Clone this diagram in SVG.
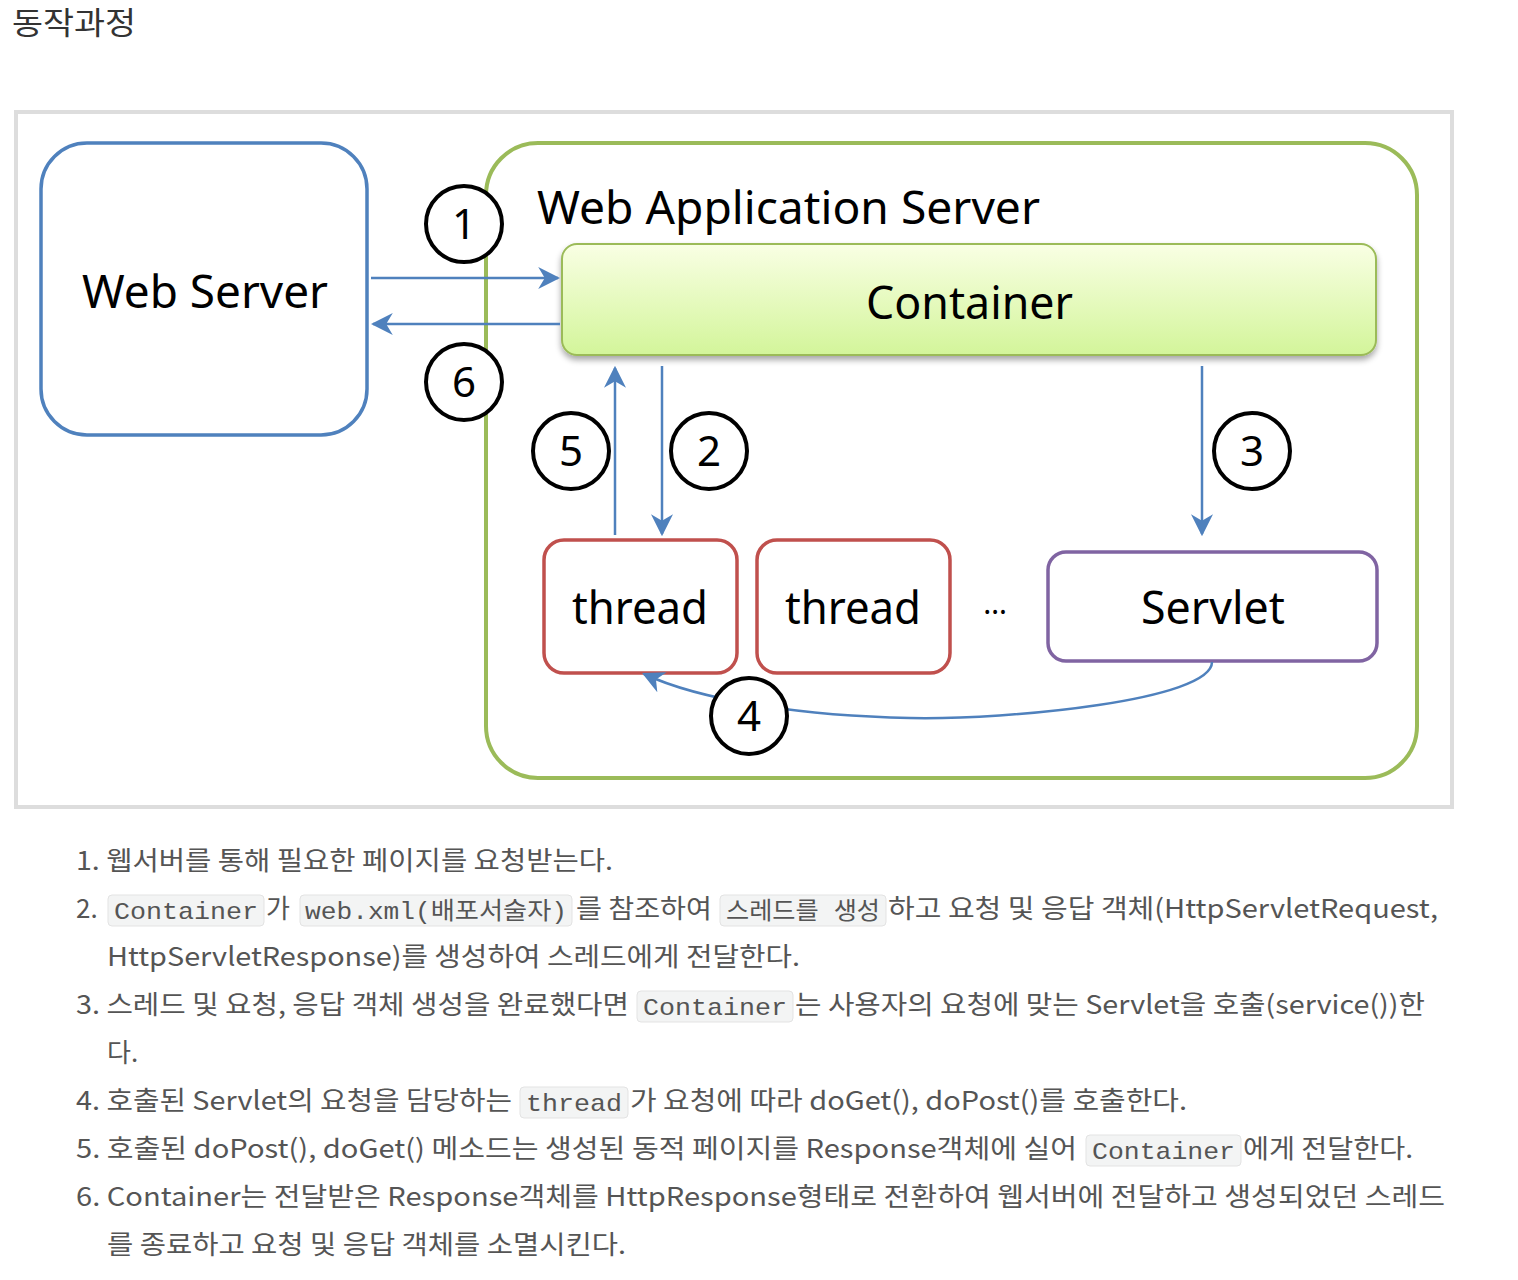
<svg xmlns="http://www.w3.org/2000/svg" width="1518" height="1280" viewBox="0 0 1518 1280">
<defs>
<linearGradient id="cg" x1="0" y1="0" x2="0" y2="1">
<stop offset="0" stop-color="#f9ffe4"/>
<stop offset="1" stop-color="#d3f59a"/>
</linearGradient>
<filter id="sh" x="-5%" y="-20%" width="110%" height="150%">
<feGaussianBlur in="SourceAlpha" stdDeviation="3"/>
<feOffset dx="0" dy="4" result="b"/>
<feComponentTransfer><feFuncA type="linear" slope="0.35"/></feComponentTransfer>
<feMerge><feMergeNode/><feMergeNode in="SourceGraphic"/></feMerge>
</filter>
<marker id="ah" viewBox="0 0 20 20" refX="18" refY="10" markerWidth="22" markerHeight="22" markerUnits="userSpaceOnUse" orient="auto">
<path d="M0,0 L20,10 L0,20 L6,10 Z" fill="#4F81BD"/>
</marker>
</defs>
<style>
.dg{font-family:"Noto Sans","Open Sans","DejaVu Sans",sans-serif;fill:#000}
.big{font-size:46px}
.num{font-size:42px;text-anchor:middle}
.circ{fill:#fff;stroke:#000;stroke-width:4}
.conn{stroke:#4F81BD;stroke-width:2.5;fill:none}
.tx{font-family:"Noto Sans CJK KR","Noto Sans",sans-serif;font-size:26px;fill:#555}
.code{font-family:"Liberation Mono","Noto Sans CJK KR",monospace;font-size:24px;fill:#555}
.cb{fill:#f3f4f4;stroke:#e3e3e3;stroke-width:1}
</style>
<rect width="1518" height="1280" fill="#fff"/>
<text x="12" y="34" textLength="124" lengthAdjust="spacingAndGlyphs" style="font-family:'Noto Sans CJK KR',sans-serif;font-size:31px;fill:#333">동작과정</text>
<rect x="16" y="112" width="1436" height="695" fill="#fff" stroke="#ddd" stroke-width="4"/>

<g id="was">
<rect x="486" y="143" width="931" height="635" rx="52" fill="#fff" stroke="#9BBB59" stroke-width="4"/>
<text class="dg big" x="537" y="224" textLength="503" lengthAdjust="spacingAndGlyphs">Web Application Server</text>
</g>
<g id="webserver">
<rect x="41" y="143" width="326" height="292" rx="46" fill="#fff" stroke="#4F81BD" stroke-width="3.5"/>
<text class="dg big" x="82" y="308" textLength="246" lengthAdjust="spacingAndGlyphs">Web Server</text>
</g>
<g id="container">
<rect x="562" y="244" width="814" height="111" rx="15" fill="url(#cg)" stroke="#9BBB59" stroke-width="2" filter="url(#sh)"/>
<text class="dg big" x="866" y="319" textLength="207" lengthAdjust="spacingAndGlyphs">Container</text>
</g>
<g id="thread1">
<rect x="544" y="540" width="193" height="133" rx="20" fill="#fff" stroke="#C0504D" stroke-width="3.5"/>
<text class="dg big" x="572" y="624" textLength="136" lengthAdjust="spacingAndGlyphs">thread</text>
</g>
<g id="thread2">
<rect x="757" y="540" width="193" height="133" rx="20" fill="#fff" stroke="#C0504D" stroke-width="3.5"/>
<text class="dg big" x="785" y="624" textLength="136" lengthAdjust="spacingAndGlyphs">thread</text>
</g>
<g id="ellipsis">
<text class="dg" x="995" y="614" style="font-size:30px;text-anchor:middle">…</text>
</g>
<g id="servlet">
<rect x="1048" y="552" width="329" height="109" rx="18" fill="#fff" stroke="#8064A2" stroke-width="3.5"/>
<text class="dg big" x="1141" y="624" textLength="144" lengthAdjust="spacingAndGlyphs">Servlet</text>
</g>

<g id="connectors">
<line class="conn" x1="371" y1="278" x2="558" y2="278" marker-end="url(#ah)"/>
<line class="conn" x1="560" y1="324" x2="373" y2="324" marker-end="url(#ah)"/>
<line class="conn" x1="615" y1="535" x2="615" y2="368" marker-end="url(#ah)"/>
<line class="conn" x1="662" y1="366" x2="662" y2="534" marker-end="url(#ah)"/>
<line class="conn" x1="1202" y1="366" x2="1202" y2="534" marker-end="url(#ah)"/>
<path class="conn" d="M1212,662 C1212,700 1010,720 910,718 C800,716 700,700 644,674" marker-end="url(#ah)"/>
</g>

<g id="labels">
<circle class="circ" cx="464" cy="224" r="38"/><text class="dg num" x="464" y="239">1</text>
<circle class="circ" cx="464" cy="382" r="38"/><text class="dg num" x="464" y="397">6</text>
<circle class="circ" cx="571" cy="451" r="38"/><text class="dg num" x="571" y="466">5</text>
<circle class="circ" cx="709" cy="451" r="38"/><text class="dg num" x="709" y="466">2</text>
<circle class="circ" cx="1252" cy="451" r="38"/><text class="dg num" x="1252" y="466">3</text>
<ellipse class="circ" cx="749" cy="716" rx="38" ry="38"/><text class="dg num" x="749" y="731">4</text>
</g>

<g id="steps">
<text class="tx" x="76" y="870" textLength="537" lengthAdjust="spacingAndGlyphs">1. 웹서버를 통해 필요한 페이지를 요청받는다.</text>

<text class="tx" x="76" y="918">2.</text>
<rect class="cb" x="108" y="895" width="156" height="31" rx="4"/>
<text class="code" x="114" y="919" textLength="144" lengthAdjust="spacingAndGlyphs">Container</text>
<text class="tx" x="266" y="918">가</text>
<rect class="cb" x="300" y="895" width="272" height="31" rx="4"/>
<text class="code" x="305" y="919" textLength="262" lengthAdjust="spacingAndGlyphs">web.xml(배포서술자)</text>
<text class="tx" x="576" y="918" textLength="136" lengthAdjust="spacingAndGlyphs">를 참조하여</text>
<rect class="cb" x="720" y="895" width="166" height="31" rx="4"/>
<text class="code" x="726" y="919" textLength="154" lengthAdjust="spacingAndGlyphs">스레드를  생성</text>
<text class="tx" x="888" y="918" textLength="550" lengthAdjust="spacingAndGlyphs">하고 요청 및 응답 객체(HttpServletRequest,</text>
<text class="tx" x="107" y="966" textLength="693" lengthAdjust="spacingAndGlyphs">HttpServletResponse)를 생성하여 스레드에게 전달한다.</text>

<text class="tx" x="76" y="1014" textLength="553" lengthAdjust="spacingAndGlyphs">3. 스레드 및 요청, 응답 객체 생성을 완료했다면</text>
<rect class="cb" x="637" y="991" width="156" height="31" rx="4"/>
<text class="code" x="643" y="1015" textLength="144" lengthAdjust="spacingAndGlyphs">Container</text>
<text class="tx" x="795" y="1014" textLength="630" lengthAdjust="spacingAndGlyphs">는 사용자의 요청에 맞는 Servlet을 호출(service())한</text>
<text class="tx" x="107" y="1062">다.</text>

<text class="tx" x="76" y="1110" textLength="436" lengthAdjust="spacingAndGlyphs">4. 호출된 Servlet의 요청을 담당하는</text>
<rect class="cb" x="520" y="1087" width="108" height="31" rx="4"/>
<text class="code" x="526" y="1111" textLength="96" lengthAdjust="spacingAndGlyphs">thread</text>
<text class="tx" x="630" y="1110" textLength="557" lengthAdjust="spacingAndGlyphs">가 요청에 따라 doGet(), doPost()를 호출한다.</text>

<text class="tx" x="76" y="1158" textLength="1001" lengthAdjust="spacingAndGlyphs">5. 호출된 doPost(), doGet() 메소드는 생성된 동적 페이지를 Response객체에 실어</text>
<rect class="cb" x="1086" y="1135" width="155" height="31" rx="4"/>
<text class="code" x="1092" y="1159" textLength="143" lengthAdjust="spacingAndGlyphs">Container</text>
<text class="tx" x="1243" y="1158" textLength="170" lengthAdjust="spacingAndGlyphs">에게 전달한다.</text>

<text class="tx" x="76" y="1206" textLength="1369" lengthAdjust="spacingAndGlyphs">6. Container는 전달받은 Response객체를 HttpResponse형태로 전환하여 웹서버에 전달하고 생성되었던 스레드</text>
<text class="tx" x="107" y="1254" textLength="519" lengthAdjust="spacingAndGlyphs">를 종료하고 요청 및 응답 객체를 소멸시킨다.</text>
</g>
</svg>
